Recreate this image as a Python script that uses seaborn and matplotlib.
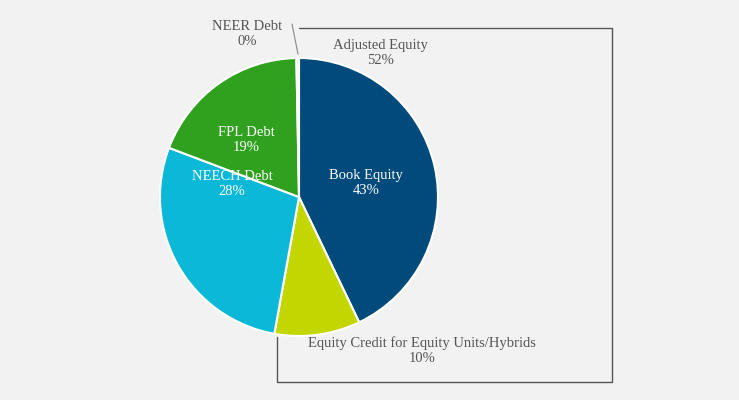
import matplotlib
matplotlib.use("Agg")
import matplotlib.pyplot as plt
import seaborn as sns

# slice data, clockwise from 12 o'clock
labels = ["Book Equity", "Equity Credit for Equity Units/Hybrids", "NEECH Debt", "FPL Debt", "NEER Debt"]
shares = [43, 10, 28, 19, 0.3]
pct_text = ["43%", "10%", "28%", "19%", "0%"]
colors = ["#004b7c", "#c4d600", "#0bb8d8", "#2fa11f", "#d9d9d9"]

sns.set_theme(style="white")
plt.rcParams["font.family"] = ["Liberation Serif", "DejaVu Serif"]

bg = "#f2f2f2"
fig = plt.figure(figsize=(7.39, 4.0), dpi=100, facecolor=bg)
ax = fig.add_axes([0, 0, 1, 1])
ax.set_facecolor(bg)
ax.set_xlim(0, 739)
ax.set_ylim(0, 400)
ax.set_aspect("equal")
ax.axis("off")

cx, cy, r = 299, 203, 139
ax.pie(shares, colors=sns.color_palette(colors), startangle=90, counterclock=False,
       center=(cx, cy), radius=r,
       wedgeprops=dict(edgecolor="white", linewidth=1.5))
ax.set_xlim(0, 739)
ax.set_ylim(0, 400)

# bracket around the equity part
ax.plot([299, 612, 612, 277, 277], [372, 372, 18, 18, 63], color="#555555", lw=1)

inside = dict(color="white", fontsize=10.5, ha="center", va="center", linespacing=1.2)
ax.text(366, 217, f"{labels[0]}\n{pct_text[0]}", **inside)
ax.text(232, 216, f"{labels[2]}\n{pct_text[2]}", **inside)
ax.text(246, 260, f"{labels[3]}\n{pct_text[3]}", **inside)

outside = dict(color="#555555", fontsize=10.5, ha="center", va="center", linespacing=1.2)
ax.text(380, 347, f"{labels[4] if False else 'Adjusted Equity'}\n52%", **outside)
ax.text(247, 366, f"{labels[4]}\n{pct_text[4]}", **outside)
ax.text(422, 49, f"{labels[1]}\n{pct_text[1]}", **outside)
ax.plot([292, 298], [376, 346], color="#888888", lw=0.8)

fig.savefig("out.png", dpi=100, facecolor=bg)
